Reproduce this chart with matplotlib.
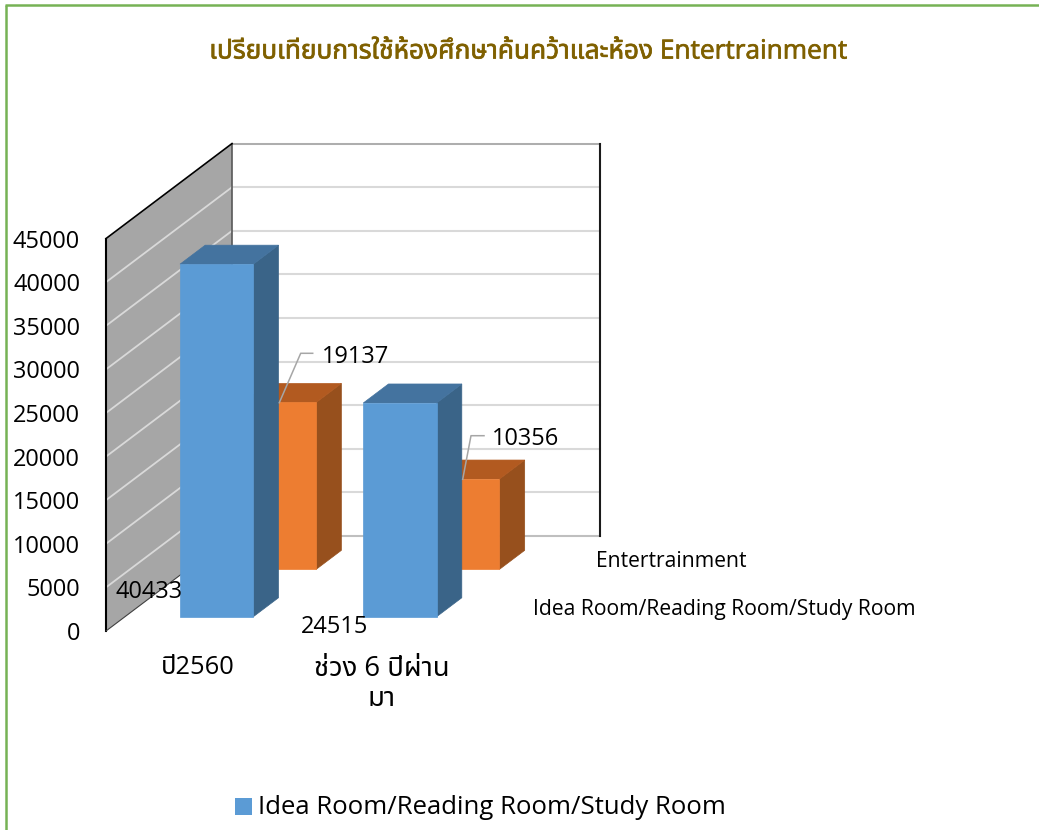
import matplotlib

matplotlib.use("Agg")
import matplotlib.pyplot as plt
import matplotlib.patheffects as pe
from matplotlib.patches import Polygon, Rectangle

plt.rcParams["font.family"] = ["Open Sans", "Noto Sans Thai", "DejaVu Sans"]

title = "เปรียบเทียบการใช้ห้องศึกษาค้นคว้าและห้อง Entertrainment"
series_names = ["Idea Room/Reading Room/Study Room", "Entertrainment"]
categories = ["ปี2560", "ช่วง 6 ปีผ่าน\nมา"]
idea_room = [40433, 24515]
entertainment = [19137, 10356]
y_ticks = [0, 5000, 10000, 15000, 20000, 25000, 30000, 35000, 40000, 45000]

# oblique projection of the excel 3d chart, all in image pixels
x_origin = 106
y_origin = 631
y_scale = 392.4 / 45000
depth_dx = 126
depth_dy = -95
wall_width = 367.5

blue = ("#5B9BD5", "#3A6488", "#44739F")
orange = ("#ED7D31", "#97501D", "#B25A20")


def project(x, value, depth):
    # x along the front edge, depth 0 = front of floor, 1 = back wall
    return (x_origin + x + depth * depth_dx, y_origin - value * y_scale + depth * depth_dy)


def draw_bar(ax, x, value, depth, colors, width=73.3, thick=0.2):
    a = project(x, 0, depth)
    b = project(x + width, 0, depth)
    c = project(x + width, value, depth)
    d = project(x, value, depth)
    b2 = project(x + width, 0, depth + thick)
    c2 = project(x + width, value, depth + thick)
    d2 = project(x, value, depth + thick)
    ax.add_patch(Polygon([b, b2, c2, c], fc=colors[1], ec=colors[1], lw=0.5, zorder=3))
    ax.add_patch(Polygon([d, c, c2, d2], fc=colors[2], ec=colors[2], lw=0.5, zorder=3))
    ax.add_patch(Polygon([a, b, c, d], fc=colors[0], ec=colors[0], lw=0.5, zorder=3))


fig = plt.figure(figsize=(10.39, 8.30), dpi=100)
ax = fig.add_axes([0, 0, 1, 1])
ax.set_xlim(0, 1039)
ax.set_ylim(830, 0)
ax.axis("off")

# green frame
ax.plot([6, 6], [830, 5], color="#76B255", lw=1.8, solid_capstyle="butt")
ax.plot([5, 1039], [5.5, 5.5], color="#76B255", lw=1.8, solid_capstyle="butt")

# side wall
top = max(y_ticks)
ax.add_patch(Polygon([project(0, 0, 0), project(0, top, 0), project(0, top, 1), project(0, 0, 1)],
                     fc="#A6A6A6", ec="none"))

# gridlines
for t in y_ticks[1:]:
    p0, p1, p2 = project(0, t, 0), project(0, t, 1), project(wall_width, t, 1)
    ax.plot([p0[0], p1[0]], [p0[1], p1[1]], color="#D9D9D9", lw=1.3)
    ax.plot([p1[0], p2[0]], [p1[1], p2[1]], color="#D9D9D9", lw=1.5)

# wall edges
p = project(0, 0, 1)
q = project(wall_width, 0, 1)
ax.plot([p[0], q[0]], [p[1], q[1]], color="#BFBFBF", lw=1.5)
r = project(wall_width, top, 1)
s = project(0, top, 1)
ax.plot([s[0], r[0]], [s[1], r[1]], color="#A6A6A6", lw=1.2)
ax.plot([q[0], r[0]], [q[1], r[1]], color="#1A1A1A", lw=1.5)
ax.plot([p[0], s[0]], [p[1], s[1]], color="#595959", lw=1.2)
f0 = project(0, 0, 0)
f1 = project(0, top, 0)
ax.plot([f0[0], f1[0]], [f0[1], f1[1]], color="black", lw=1.5)
ax.plot([f1[0], s[0]], [f1[1], s[1]], color="black", lw=1.2)
ax.plot([f0[0], p[0]], [f0[1], p[1]], color="#404040", lw=0.8)

# bars, back series first so the front ones cover them
bar_x = [55.1, 238.4]
for i, v in enumerate(entertainment):
    draw_bar(ax, bar_x[i], v, 0.649, orange)
for i, v in enumerate(idea_room):
    draw_bar(ax, bar_x[i], v, 0.15, blue)

# y tick labels
for t in y_ticks:
    ax.text(80, project(0, t, 0)[1] + 3, str(t), ha="right", va="center", fontsize=16.9, color="black", zorder=4)

# category labels
ax.text(197.5, 667, categories[0], ha="center", va="center", fontsize=18.4, color="black", zorder=4)
ax.text(381.5, 684, categories[1], ha="center", va="center", fontsize=19.8, color="black", linespacing=1.05, zorder=4)

# series axis labels
ax.text(596, 561, series_names[1], ha="left", va="center", fontsize=15.2, color="black", zorder=4)
ax.text(533, 609.5, series_names[0], ha="left", va="center", fontsize=15.2, color="black", zorder=4)

# data labels
ax.text(115, 592, str(idea_room[0]), ha="left", va="center", fontsize=16.9, color="black", zorder=4)
ax.text(301, 627, str(idea_room[1]), ha="left", va="center", fontsize=16.9, color="black", zorder=4)
ax.text(322, 357, str(entertainment[0]), ha="left", va="center", fontsize=16.9, color="black", zorder=4)
ax.text(492, 439, str(entertainment[1]), ha="left", va="center", fontsize=16.9, color="black", zorder=4)

# leader lines
ax.plot([279.3, 300.7, 312.7], [402.7, 353.3, 353.3], color="#A6A6A6", lw=1.1, zorder=4)
ax.plot([462.7, 471, 484], [479.3, 435.7, 435.7], color="#A6A6A6", lw=1.1, zorder=4)

# legend, only the first series fits in the picture
ax.add_patch(Rectangle((235, 798), 16.5, 17, fc=blue[0], ec="none"))
ax.text(258, 807.5, series_names[0], ha="left", va="center", fontsize=18.5, color="black")

t = ax.text(528.5, 52, title, ha="center", va="center", fontsize=18.9, color="#7F6000")
t.set_path_effects([pe.withStroke(linewidth=0.5, foreground="#7F6000")])

fig.savefig("out.png", dpi=100)
